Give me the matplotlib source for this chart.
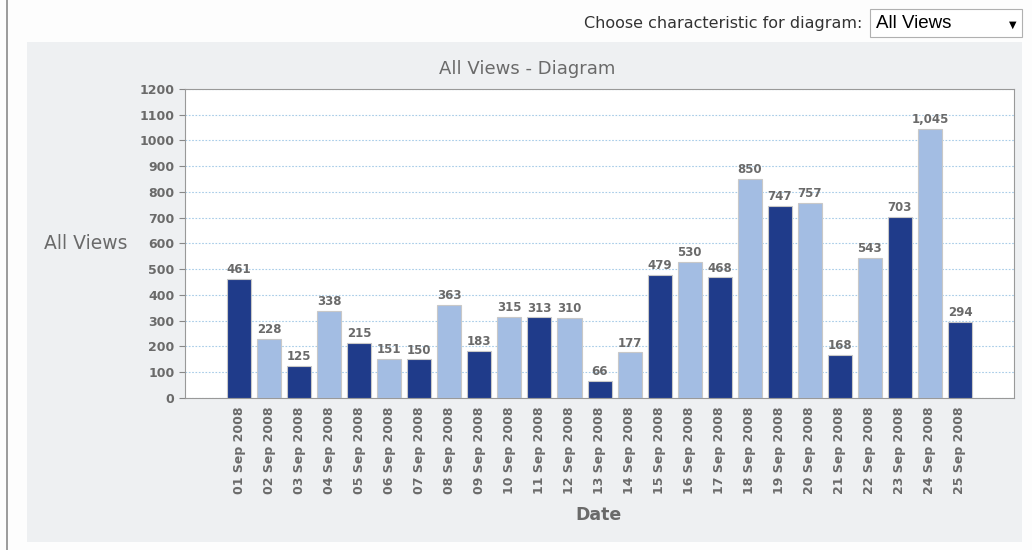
import matplotlib
matplotlib.use("Agg")
import matplotlib.pyplot as plt
from matplotlib.patches import Rectangle
from matplotlib.lines import Line2D

# data
dates = ["01 Sep 2008", "02 Sep 2008", "03 Sep 2008", "04 Sep 2008", "05 Sep 2008",
         "06 Sep 2008", "07 Sep 2008", "08 Sep 2008", "09 Sep 2008", "10 Sep 2008",
         "11 Sep 2008", "12 Sep 2008", "13 Sep 2008", "14 Sep 2008", "15 Sep 2008",
         "16 Sep 2008", "17 Sep 2008", "18 Sep 2008", "19 Sep 2008", "20 Sep 2008",
         "21 Sep 2008", "22 Sep 2008", "23 Sep 2008", "24 Sep 2008", "25 Sep 2008"]
views = [461, 228, 125, 338, 215, 151, 150, 363, 183, 315,
         313, 310, 66, 177, 479, 530, 468, 850, 747, 757,
         168, 543, 703, 1045, 294]
y_ticks = [0, 100, 200, 300, 400, 500, 600, 700, 800, 900, 1000, 1100, 1200]

dark = "#1f3b8a"
light = "#a3bde3"
grey_txt = "#6a6a6a"

fig = plt.figure(figsize=(10.32, 5.5), dpi=100)
fig.patch.set_facecolor("#fdfdfd")

# left border line and grey panel behind the chart
fig.add_artist(Line2D([0.0068, 0.0068], [0, 1], color="#8a8a8a", lw=1.2))
fig.add_artist(Rectangle((0.0262, 0.0146), 0.964, 0.909, facecolor="#eef0f2",
                         edgecolor="none", transform=fig.transFigure, zorder=0))

# selector at the top
fig.text(0.8353, 0.958, "Choose characteristic for diagram:", ha="right", va="center",
         fontsize=11.5, color="#333333")
fig.add_artist(Rectangle((0.843, 0.933), 0.147, 0.05, facecolor="white",
                         edgecolor="#b0b0b0", lw=0.8, transform=fig.transFigure))
fig.text(0.849, 0.958, "All Views", ha="left", va="center", fontsize=13.5,
         family="Liberation Sans", color="black")
fig.text(0.981, 0.955, "▼", ha="center", va="center", fontsize=7, color="black")

ax = fig.add_axes([0.1793, 0.2764, 0.8033, 0.5618])
ax.set_facecolor("white")

colors = [dark if i % 2 == 0 else light for i in range(len(views))]
x = list(range(len(views)))
bars = ax.bar(x, views, width=0.8, color=colors, edgecolor="#c8c8c8", linewidth=0.8, zorder=3)
ax.bar_label(bars, labels=[f"{v:,}" for v in views], padding=2, fontsize=8.5,
             fontweight="bold", color=grey_txt)

ax.set_xlim(-1.8, 25.8)
ax.set_ylim(0, 1200)
ax.set_yticks(y_ticks)
ax.set_xticks(x)
ax.set_xticklabels(dates, rotation=90, fontsize=9, fontweight="bold", color=grey_txt)
ax.tick_params(axis="y", labelsize=9, labelcolor=grey_txt, length=4, color="#888888")
for lbl in ax.get_yticklabels():
    lbl.set_fontweight("bold")
ax.tick_params(axis="x", length=0, pad=6)

ax.grid(axis="y", linestyle=(0, (1.5, 1.5)), color="#a8cce8", linewidth=0.8, zorder=0)
for s in ax.spines.values():
    s.set_color("#999999")
    s.set_linewidth(0.8)

fig.text(0.5107, 0.8745, "All Views - Diagram", ha="center", va="center",
         fontsize=13, color=grey_txt)
fig.text(0.0833, 0.5564, "All Views", ha="center", va="center", fontsize=13.5,
         color=grey_txt)
fig.text(0.5795, 0.0636, "Date", ha="center", va="center", fontsize=12.5,
         fontweight="bold", color=grey_txt)

fig.savefig("out.png", dpi=100, facecolor=fig.get_facecolor())
